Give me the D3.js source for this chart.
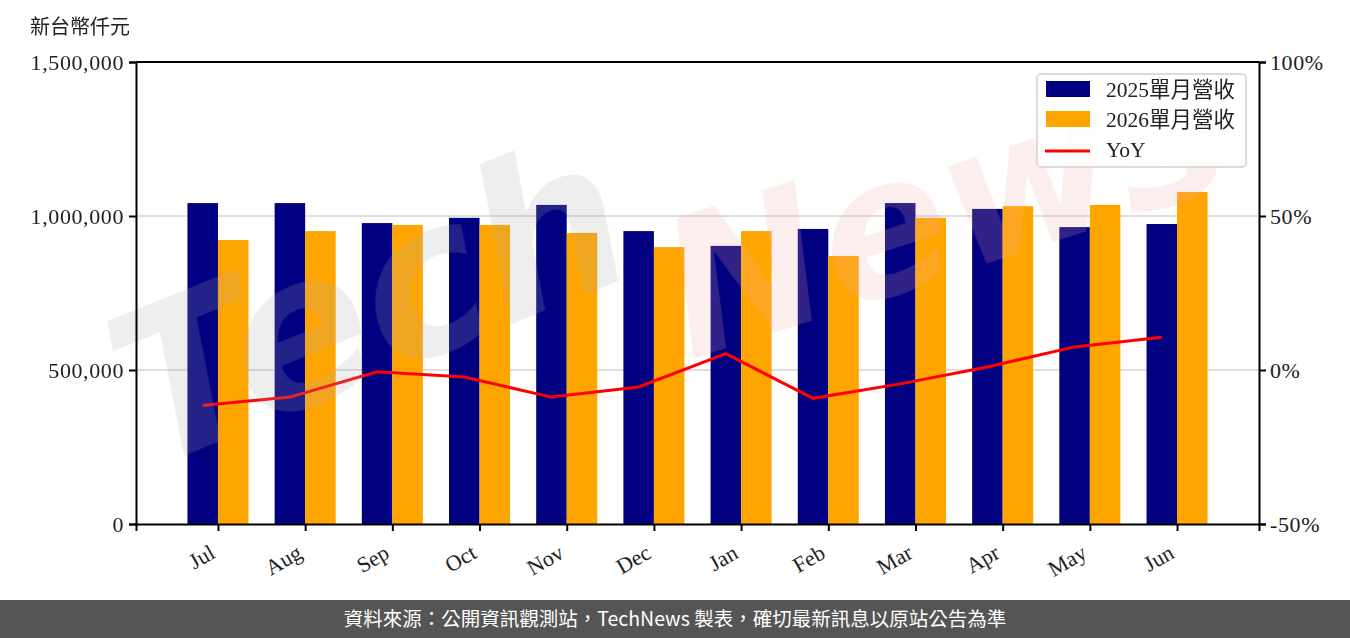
<!DOCTYPE html>
<html>
<head>
<meta charset="utf-8">
<style>
  html, body { margin: 0; padding: 0; background: #fff; }
  svg { display: block; }
</style>
</head>
<body>
<svg id="svg" width="1350" height="638"></svg>
<script src="https://d3js.org/d3.v7.min.js"></script>
<script>
const months = ['Jul', 'Aug', 'Sep', 'Oct', 'Nov', 'Dec', 'Jan', 'Feb', 'Mar', 'Apr', 'May', 'Jun']
const rev2025 = [1042000, 1042000, 977000, 994000, 1036000, 951000, 903000, 958000, 1042000, 1023000, 964000, 974000]
const rev2026 = [922000, 951000, 971000, 971000, 945000, 899000, 951000, 870000, 994000, 1032000, 1036000, 1078000]
const yoy = [-11.5, -8.8, -0.6, -2.3, -8.8, -5.5, 5.3, -9.2, -4.5, 1.0, 7.5, 10.6]
const leftTicks = [0, 500000, 1000000, 1500000]
const rightTicks = [-50, 0, 50, 100]
const seriesNames = ['2025單月營收', '2026單月營收', 'YoY']

const margin = { top: 62, right: 91, bottom: 114, left: 136 }
const W = 1350, H = 638
const width = W - margin.left - margin.right
const height = H - margin.top - margin.bottom
const serif = '"Liberation Serif", "DejaVu Serif", "Noto Sans CJK TC", serif'

const svg = d3.select('#svg')

const x = d3.scaleLinear().domain([-0.94, 11.94]).range([margin.left, margin.left + width])
const y = d3.scaleLinear().domain([0, 1500000]).range([margin.top + height, margin.top])
const y2 = d3.scaleLinear().domain([-50, 100]).range([margin.top + height, margin.top])
const bw = 0.35

// grid
svg.append('g')
  .selectAll('line')
  .data([500000, 1000000])
  .enter()
  .append('line')
  .attr('x1', margin.left).attr('x2', margin.left + width)
  .attr('y1', d => y(d)).attr('y2', d => y(d))
  .attr('stroke', '#d3d3d3').attr('stroke-width', 1.5)

const bars = svg.append('g')
bars.selectAll('.b25')
  .data(rev2025)
  .enter()
  .append('rect')
  .attr('x', (d, i) => x(i - bw))
  .attr('y', d => y(d))
  .attr('width', x(bw) - x(0))
  .attr('height', d => y(0) - y(d))
  .attr('fill', '#000080')
bars.selectAll('.b26')
  .data(rev2026)
  .enter()
  .append('rect')
  .attr('x', (d, i) => x(i))
  .attr('y', d => y(d))
  .attr('width', x(bw) - x(0))
  .attr('height', d => y(0) - y(d))
  .attr('fill', '#ffa500')

const line = d3.line().x((d, i) => x(i - bw / 2)).y(d => y2(d))
svg.append('path')
  .datum(yoy)
  .attr('d', line)
  .attr('fill', 'none')
  .attr('stroke', '#ff0000')
  .attr('stroke-width', 3)

// watermark
const wm = svg.append('g').attr('opacity', 0.2)
wm.append('text')
  .attr('transform', 'translate(150,470) rotate(-22)')
  .attr('font-family', '"DejaVu Sans"')
  .attr('font-style', 'italic')
  .attr('font-weight', 'bold')
  .attr('font-size', 210)
  .attr('fill', '#a8a8a8')
  .text('Tech')
wm.append('text')
  .attr('transform', 'translate(690,360) rotate(-18)')
  .attr('font-family', '"DejaVu Sans"')
  .attr('font-style', 'italic')
  .attr('font-weight', 'bold')
  .attr('font-size', 190)
  .attr('fill', '#f2a8a8')
  .text('News')

// axes
const fmt = d3.format(',')
const leftAxis = d3.axisLeft(y).tickValues(leftTicks).tickFormat(d => fmt(d)).tickSize(7)
const rightAxis = d3.axisRight(y2).tickValues(rightTicks).tickFormat(d => d + '%').tickSize(7)
const bottomAxis = d3.axisBottom(x).tickValues(d3.range(months.length)).tickFormat(i => months[i]).tickSize(7)

const gl = svg.append('g').attr('transform', `translate(${margin.left},0)`).call(leftAxis)
const gr = svg.append('g').attr('transform', `translate(${margin.left + width},0)`).call(rightAxis)
const gb = svg.append('g').attr('transform', `translate(0,${margin.top + height})`).call(bottomAxis)
svg.append('line')
  .attr('x1', margin.left).attr('x2', margin.left + width)
  .attr('y1', margin.top).attr('y2', margin.top)
  .attr('stroke', '#000').attr('stroke-width', 2)

;[gl, gr, gb].forEach(g => {
  g.select('.domain').attr('stroke-width', 2).attr('stroke', '#000')
  g.selectAll('.tick line').attr('stroke-width', 2).attr('stroke', '#000')
  g.selectAll('text').attr('font-size', 22).attr('fill', '#222')
    .attr('font-family', serif)
})
gl.selectAll('text').attr('x', -12).attr('letter-spacing', 0.6)
gr.selectAll('text').attr('x', 11).attr('letter-spacing', 0.6)
gb.selectAll('text')
  .attr('text-anchor', 'end')
  .attr('dy', 0)
  .attr('y', 0)
  .attr('transform', 'translate(-2,33) rotate(-30)')

svg.append('text')
  .attr('x', 30).attr('y', 34)
  .attr('font-size', 20)
  .attr('font-family', '"Noto Sans CJK TC", sans-serif')
  .attr('fill', '#222')
  .text('新台幣仟元')

// legend
const lg = svg.append('g').attr('transform', 'translate(1037,74)')
lg.append('rect')
  .attr('width', 209).attr('height', 93)
  .attr('rx', 4)
  .attr('fill', '#fff').attr('fill-opacity', 0.8)
  .attr('stroke', '#d0d0d0').attr('stroke-width', 1.5)
const colors = ['#000080', '#ffa500', '#ff0000']
seriesNames.forEach((name, i) => {
  const yy = 15 + i * 30
  if (i < 2) {
    lg.append('rect').attr('x', 9).attr('y', yy - 8).attr('width', 44).attr('height', 16).attr('fill', colors[i])
  } else {
    lg.append('line').attr('x1', 8).attr('x2', 53).attr('y1', yy + 2).attr('y2', yy + 2)
      .attr('stroke', colors[i]).attr('stroke-width', 3)
  }
  lg.append('text')
    .attr('x', 69).attr('y', yy + 8)
    .attr('font-size', 21.5)
    .attr('fill', '#222')
    .attr('font-family', serif)
    .text(name)
})

// footer
svg.append('rect').attr('x', 0).attr('y', 600).attr('width', W).attr('height', 38).attr('fill', '#555')
svg.append('text')
  .attr('x', W / 2).attr('y', 626)
  .attr('text-anchor', 'middle')
  .attr('font-size', 19.5)
  .attr('fill', '#fff')
  .attr('font-family', '"Noto Sans CJK TC", "Noto Sans", sans-serif')
  .text('資料來源：公開資訊觀測站，TechNews 製表，確切最新訊息以原站公告為準')
</script>
</body>
</html>
